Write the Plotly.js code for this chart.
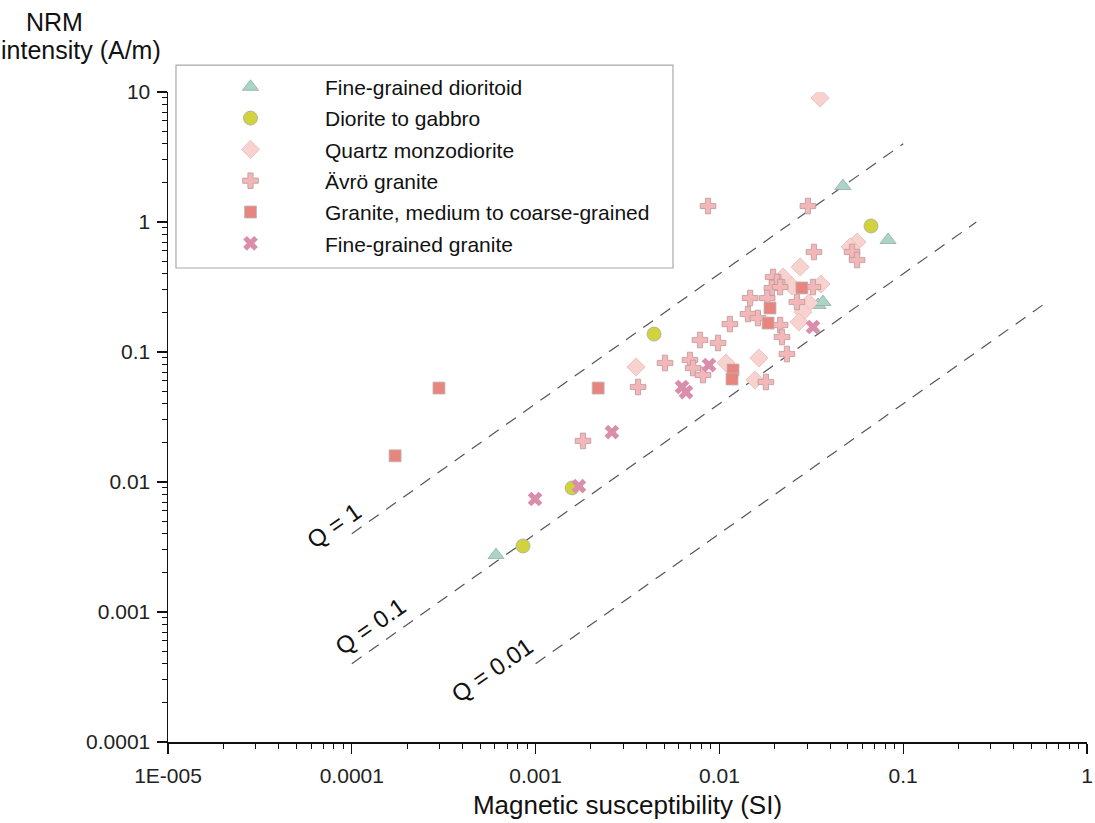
<!DOCTYPE html>
<html>
<head>
<meta charset="utf-8">
<script src="https://cdn.plot.ly/plotly-3.0.1.min.js"></script>
<style>html,body{margin:0;padding:0;background:#fff;}</style>
</head>
<body>
<div id="chart" style="width:1095px;height:823px;"></div>
<script>
// ---- data (magnetic susceptibility SI, NRM intensity A/m) ----
const dioritoidK = [0.000609, 0.0470, 0.0827, 0.0344, 0.0366];
const dioritoidN = [0.00274, 1.89, 0.727, 0.230, 0.242];

const dioriteK = [0.000854, 0.00158, 0.00441, 0.0668];
const dioriteN = [0.00322, 0.0090, 0.1375, 0.932];

const qmdK = [0.0353, 0.0561, 0.0514, 0.0275, 0.0222, 0.0248, 0.0357, 0.0307, 0.0285, 0.0271, 0.0164, 0.01086, 0.0156, 0.00352];
const qmdN = [8.99, 0.702, 0.642, 0.451, 0.3775, 0.322, 0.333, 0.238, 0.203, 0.170, 0.0899, 0.0823, 0.0609, 0.0767];

const avroK = [0.00867, 0.0303, 0.0327, 0.0527, 0.0561, 0.0196, 0.0206, 0.0193, 0.0214, 0.0323, 0.0147, 0.0182, 0.0264, 0.0143, 0.0162, 0.0214, 0.0114, 0.0219, 0.00784, 0.00983, 0.0233, 0.00506, 0.00692, 0.00719, 0.00814, 0.0179, 0.00361, 0.00181];
const avroN = [1.327, 1.327, 0.588, 0.588, 0.510, 0.3775, 0.3455, 0.3106, 0.316, 0.316, 0.260, 0.260, 0.2424, 0.196, 0.1826, 0.1613, 0.164, 0.1304, 0.1237, 0.1173, 0.0965, 0.0823, 0.0868, 0.0753, 0.0665, 0.0588, 0.0538, 0.0207];

const graniteK = [0.000172, 0.000298, 0.00219, 0.01186, 0.01171, 0.0184, 0.01885, 0.0281];
const graniteN = [0.0159, 0.0528, 0.0528, 0.0727, 0.062, 0.167, 0.218, 0.311];

const fineGraniteK = [0.000993, 0.00172, 0.00260, 0.00626, 0.00658, 0.00878, 0.0323];
const fineGraniteN = [0.0074, 0.0093, 0.0242, 0.0538, 0.0492, 0.0794, 0.1557];

// Koenigsberger ratio reference lines (end points)
const qLabels = ["Q = 1", "Q = 0.1", "Q = 0.01"];
const qLineK = [[0.0001, 0.1], [0.0001, 0.25], [0.001, 0.6]];
const qLineN = [[0.004, 4], [0.0004, 1], [0.0004, 0.24]];

const xTickVals = [0.00001, 0.0001, 0.001, 0.01, 0.1, 1];
const xTickText = ["1E-005", "0.0001", "0.001", "0.01", "0.1", "1"];
const yTickVals = [0.0001, 0.001, 0.01, 0.1, 1, 10];
const yTickText = ["0.0001", "0.001", "0.01", "0.1", "1", "10"];

const seriesNames = ["Fine-grained dioritoid", "Diorite to gabbro", "Quartz monzodiorite", "Ävrö granite", "Granite, medium to coarse-grained", "Fine-grained granite"];

const FONT = "Liberation Sans, Arial, Helvetica, sans-serif";

const traces = [];
qLineK.forEach((k, i) => {
  traces.push({x: k, y: qLineN[i], mode: 'lines', showlegend: false, hoverinfo: 'skip',
    line: {color: '#555', width: 1.2, dash: '12px,9px'}});
});

function pts(name, k, n, symbol, color, size, lineColor, lw) {
  return {x: k, y: n, name: name, mode: 'markers', type: 'scatter', legendgroup: name,
    marker: {symbol: symbol, color: color, size: size, line: {color: lineColor, width: lw}}};
}
traces.push(pts(seriesNames[0], dioritoidK, dioritoidN, 'triangle-up', '#A8D5C6', 14, '#9aa', 0.8));
traces.push(pts(seriesNames[1], dioriteK, dioriteN, 'circle', '#D2D23C', 14, '#aaa', 0.8));
traces.push(pts(seriesNames[2], qmdK, qmdN, 'diamond', '#F8D2CE', 14, '#e6bcb8', 0.8));
traces.push(pts(seriesNames[3], avroK, avroN, 'cross', '#F3B7BA', 13, '#b99', 0.8));
traces.push(pts(seriesNames[4], graniteK, graniteN, 'square', '#E8857F', 12, '#bbb', 0.8));
traces.push(pts(seriesNames[5], fineGraniteK, fineGraniteN, 'x', '#DA8EAB', 13, '#DA8EAB', 0));

const qLabelPos = [[-4.097, -2.331], [-3.901, -3.115], [-3.232, -3.446]];
const annotations = qLabels.map((t, i) => ({
  x: qLabelPos[i][0], y: qLabelPos[i][1], xref: 'x', yref: 'y', text: t, showarrow: false,
  textangle: -35, font: {family: FONT, size: 24, color: '#111'}
}));
annotations.push({xref: 'paper', yref: 'paper', x: -0.123, y: 1.108, xanchor: 'center', yanchor: 'middle',
  text: 'NRM', showarrow: false, font: {family: FONT, size: 25, color: '#111'}});
annotations.push({xref: 'paper', yref: 'paper', x: -0.184, y: 1.065, xanchor: 'left', yanchor: 'middle',
  text: 'intensity (A/m)', showarrow: false, font: {family: FONT, size: 25, color: '#111'}});

const axisCommon = {
  type: 'log', showgrid: false, zeroline: false, showline: true, linecolor: '#111', linewidth: 1.5,
  ticks: 'outside', ticklen: 10, tickwidth: 1.3, tickcolor: '#111', tickmode: 'array',
  tickfont: {family: FONT, size: 21, color: '#222'},
  minor: {ticks: 'outside', ticklen: 5, tickwidth: 1, tickcolor: '#111', dtick: 'D1', showgrid: false}
};

const layout = {
  width: 1095, height: 823,
  margin: {l: 168, r: 8, t: 92, b: 81},
  paper_bgcolor: '#fff', plot_bgcolor: '#fff',
  showlegend: true,
  xaxis: Object.assign({}, axisCommon, {range: [-5, 0], tickvals: xTickVals, ticktext: xTickText, ticklabelstandoff: 4,
    title: {text: 'Magnetic susceptibility (SI)', font: {family: FONT, size: 26, color: '#111'}, standoff: 10}}),
  yaxis: Object.assign({}, axisCommon, {range: [-4, 1], tickvals: yTickVals, ticktext: yTickText, ticklabelstandoff: 2}),
  legend: {x: 0.0087, y: 1.039, xanchor: 'left', yanchor: 'top', bgcolor: 'rgba(0,0,0,0)', borderwidth: 0,
    itemwidth: 139, tracegroupgap: 1, traceorder: 'grouped',
    font: {family: FONT, size: 21, color: '#111'}},
  shapes: [{type: 'rect', xref: 'paper', yref: 'paper', x0: 0.0087, x1: 0.5495, y0: 0.7292, y1: 1.0415,
    line: {color: '#aaa', width: 1.2}, fillcolor: 'rgba(0,0,0,0)'}],
  annotations: annotations
};

Plotly.newPlot('chart', traces, layout, {displayModeBar: false, staticPlot: true});
</script>
</body>
</html>
